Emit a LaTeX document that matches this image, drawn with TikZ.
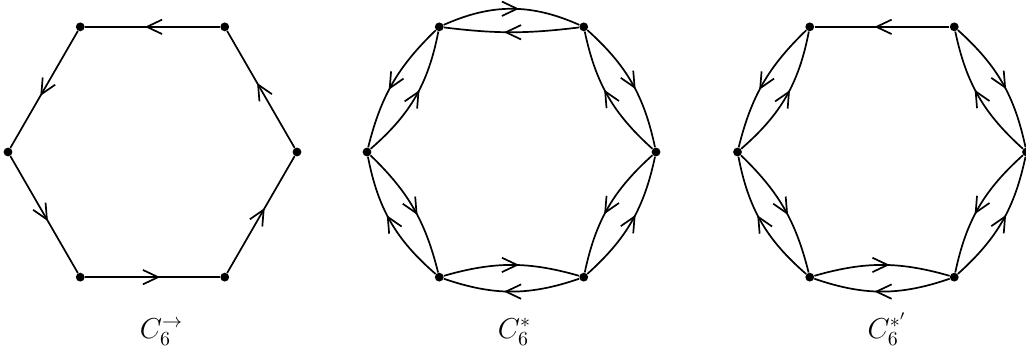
\documentclass[tikz,border=0pt]{standalone}
\usetikzlibrary{decorations.markings,arrows.meta}
\begin{document}
\begin{tikzpicture}[x=0.5pt,y=0.5pt,
  v/.style={circle,fill=black,inner sep=0pt,minimum size=4.4pt},
  ed/.style={line width=0.85pt,postaction={decorate},
    decoration={markings,mark=at position 0.5 with {\arrow[xshift=3.8pt]{Straight Barb[length=7.6pt,width=7.2pt]}}}},
  lab/.style={anchor=base,inner sep=0pt,font=\fontsize{14.4pt}{17pt}\selectfont}]
\useasboundingbox (0,0) rectangle (1026,354);
% vertices: 0=R, 1=TR, 2=TL, 3=L, 4=BL, 5=BR
\begin{scope}[shift={(152.5,202)}]
  \foreach \i in {0,...,5} \node[v] (a\i) at (\i*60:144.5) {};
\end{scope}
\begin{scope}[shift={(511.5,202)}]
  \foreach \i in {0,...,5} \node[v] (b\i) at (\i*60:144.5) {};
\end{scope}
\begin{scope}[shift={(882,202)}]
  \foreach \i in {0,...,5} \node[v] (c\i) at (\i*60:144.5) {};
\end{scope}
% C6 directed
\draw[ed] (a1) -- (a2);
\draw[ed] (a2) -- (a3);
\draw[ed] (a3) -- (a4);
\draw[ed] (a4) -- (a5);
\draw[ed] (a5) -- (a0);
\draw[ed] (a0) -- (a1);
% C6*
\draw[ed] (b2) to[bend left=24] (b1);
\draw[ed] (b1) to[bend left=7] (b2);
\draw[ed] (b1) to[bend left=18] (b0);
\draw[ed] (b0) to[bend left=18] (b1);
\draw[ed] (b5) to[bend right=18] (b0);
\draw[ed] (b0) to[bend right=18] (b5);
\draw[ed] (b5) to[bend left=19] (b4);
\draw[ed] (b4) to[bend left=16] (b5);
\draw[ed] (b4) to[bend left=19] (b3);
\draw[ed] (b3) to[bend left=16] (b4);
\draw[ed] (b2) to[bend right=16] (b3);
\draw[ed] (b3) to[bend right=19] (b2);
% C6*'
\draw[ed] (c1) -- (c2);
\draw[ed] (c1) to[bend left=18] (c0);
\draw[ed] (c0) to[bend left=18] (c1);
\draw[ed] (c5) to[bend right=18] (c0);
\draw[ed] (c0) to[bend right=18] (c5);
\draw[ed] (c5) to[bend left=19] (c4);
\draw[ed] (c4) to[bend left=16] (c5);
\draw[ed] (c4) to[bend left=19] (c3);
\draw[ed] (c3) to[bend left=16] (c4);
\draw[ed] (c2) to[bend right=16] (c3);
\draw[ed] (c3) to[bend right=19] (c2);
% labels
\node[lab] (la) at (161.5,16) {$C_6^{\to}$};
\node[lab] (lb) at (514.5,16) {$C_6^{*}$};
\node[lab] (lc) at (887,16) {$C_6^{*'}$};
\end{tikzpicture}
\end{document}
